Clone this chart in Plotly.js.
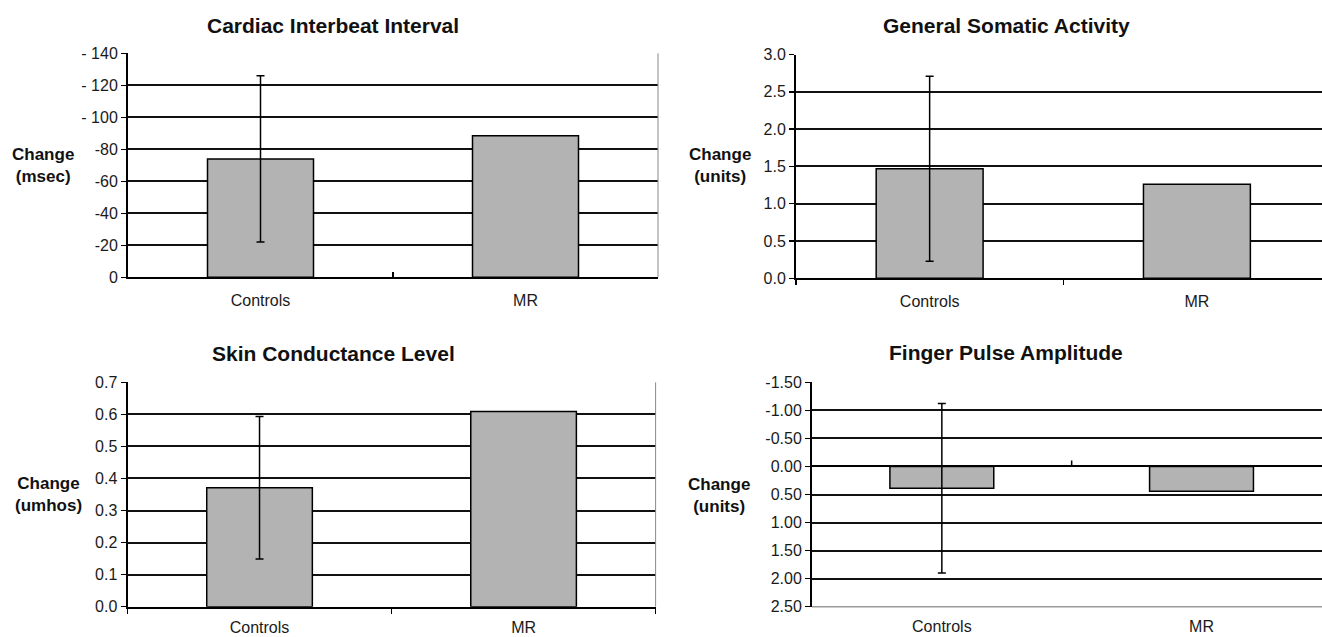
<!DOCTYPE html>
<html>
<head>
<meta charset="utf-8">
<script src="https://cdn.plot.ly/plotly-3.0.1.min.js"></script>
<style>html,body{margin:0;padding:0;background:#fff}#chart{width:1322px;height:637px}</style>
</head>
<body>
<div id="chart"></div>
<script>
// ---- data ----
const categories = ["Controls", "MR"];

const cardiacValues = [-74, -88.5];
const cardiacControlsError = 52;
const cardiacTickVals = [0, -20, -40, -60, -80, -100, -120, -140];
const cardiacTickText = ["0", "-20", "-40", "-60", "-80", "- 100", "- 120", "- 140"];

const somaticValues = [1.47, 1.26];
const somaticControlsError = 1.24;
const somaticTickVals = [0, 0.5, 1, 1.5, 2, 2.5, 3];
const somaticTickText = ["0.0", "0.5", "1.0", "1.5", "2.0", "2.5", "3.0"];

const skinValues = [0.371, 0.609];
const skinControlsError = 0.222;
const skinTickVals = [0, 0.1, 0.2, 0.3, 0.4, 0.5, 0.6, 0.7];
const skinTickText = ["0.0", "0.1", "0.2", "0.3", "0.4", "0.5", "0.6", "0.7"];

const fingerValues = [0.39, 0.44];
const fingerControlsError = 1.51;
const fingerTickVals = [-1.5, -1, -0.5, 0, 0.5, 1, 1.5, 2, 2.5];
const fingerTickText = ["-1.50", "-1.00", "-0.50", "0.00", "0.50", "1.00", "1.50", "2.00", "2.50"];

const panelTitles = ["Cardiac Interbeat Interval", "General Somatic Activity", "Skin Conductance Level", "Finger Pulse Amplitude"];
const yTitles = ["Change<br>(msec)", "Change<br>(units)", "Change<br>(umhos)", "Change<br>(units)"];

// ---- styling ----
const FONT = "Liberation Sans, Arial, sans-serif";
const BAR_COLOR = "#b3b3b3";
const W = 1322, H = 637;

function panelTraces(values, err, xa, ya) {
  const common = {
    type: "bar", width: 0.4, xaxis: xa, yaxis: ya, showlegend: false, hoverinfo: "x+y",
    marker: {color: BAR_COLOR, line: {color: "#000", width: 1.5}}
  };
  return [
    Object.assign({}, common, {
      x: [categories[0]], y: [values[0]],
      error_y: {type: "data", array: [err], visible: true, color: "#000", thickness: 1.5, width: 4}
    }),
    Object.assign({}, common, {x: [categories[1]], y: [values[1]]})
  ];
}

const data = [].concat(
  panelTraces(cardiacValues, cardiacControlsError, "x", "y"),
  panelTraces(somaticValues, somaticControlsError, "x2", "y2"),
  panelTraces(skinValues, skinControlsError, "x3", "y3"),
  panelTraces(fingerValues, fingerControlsError, "x4", "y4")
);

function px(x) { return x / W; }
function py(y) { return 1 - y / H; }

function yAxis(domTop, domBot, range, vals, text, anchor, extra) {
  return Object.assign({
    domain: [py(domBot), py(domTop)], range: range, anchor: anchor,
    tickmode: "array", tickvals: vals, ticktext: text,
    showgrid: true, gridcolor: "#111", gridwidth: 2,
    showline: true, linecolor: "#000", linewidth: 2,
    ticks: "outside", ticklen: 5, tickcolor: "#000", tickwidth: 1.5,
    tickfont: {family: FONT, size: 16, color: "#1a1a1a"},
    zeroline: false, fixedrange: true
  }, extra || {});
}

function xAxis(domL, domR, range, anchor, extra) {
  return Object.assign({
    domain: [px(domL), px(domR)], range: range, anchor: anchor,
    type: "category", categoryorder: "array", categoryarray: categories,
    showgrid: false, showline: true, linecolor: "#000", linewidth: 2,
    ticks: "outside", tickson: "boundaries", ticklen: 5, tickcolor: "#000", tickwidth: 1.5,
    tickfont: {family: FONT, size: 16, color: "#1a1a1a"},
    ticklabelstandoff: 7,
    zeroline: false, fixedrange: true
  }, extra || {});
}

const layout = {
  width: W, height: H,
  margin: {l: 0, r: 0, t: 0, b: 0},
  paper_bgcolor: "#fff", plot_bgcolor: "#fff",
  barmode: "overlay",
  font: {family: FONT, color: "#000"},
  xaxis: xAxis(128, 658, [-0.5, 1.5], "y", {ticks: "inside"}),
  yaxis: yAxis(53.3, 277.3, [0, -140], cardiacTickVals, cardiacTickText, "x"),
  xaxis2: xAxis(796, 1322, [-0.5, 1.468], "y2"),
  yaxis2: yAxis(54.5, 278.3, [0, 3], somaticTickVals, somaticTickText, "x2"),
  xaxis3: xAxis(127.5, 655.6, [-0.5, 1.5], "y3", {ticklabelstandoff: 5}),
  yaxis3: yAxis(382.3, 606.7, [0, 0.7], skinTickVals, skinTickText, "x3"),
  xaxis4: xAxis(812, 1322, [-0.5, 1.464], "y4", {showline: false, ticks: "", ticklabelstandoff: 8}),
  yaxis4: yAxis(382.3, 606.7, [2.5, -1.5], fingerTickVals, fingerTickText, "x4",
                {zeroline: true, zerolinecolor: "#000", zerolinewidth: 2}),
  annotations: [],
  shapes: [
    {type: "line", xref: "x domain", yref: "y domain", x0: 1, x1: 1, y0: 0, y1: 1, line: {color: "#8a8a8a", width: 1}},
    {type: "line", xref: "x3 domain", yref: "y3 domain", x0: 1, x1: 1, y0: 0, y1: 1, line: {color: "#8a8a8a", width: 1}},
    {type: "line", xref: "x4 domain", yref: "y4 domain", x0: 0, x1: 1, y0: 0, y1: 0, line: {color: "#9a9a9a", width: 1.5}},
    {type: "line", xref: "x4", yref: "y4", x0: 0.5, x1: 0.5, ysizemode: "pixel", yanchor: 0, y0: 0, y1: 6, line: {color: "#000", width: 1.5}}
  ]
};

const titlePos = [[333, 25], [1006, 25], [333, 353], [1006, 352]];
const yTitlePos = [[43, 166], [720, 166], [48, 494], [719, 495]];
for (let i = 0; i < 4; i++) {
  layout.annotations.push({
    text: "<b>" + panelTitles[i] + "</b>", xref: "paper", yref: "paper",
    x: px(titlePos[i][0]), y: py(titlePos[i][1]), xanchor: "center", yanchor: "middle",
    showarrow: false, font: {family: FONT, size: 21, color: "#111"}
  });
  layout.annotations.push({
    text: "<b>" + yTitles[i] + "</b>", xref: "paper", yref: "paper",
    x: px(yTitlePos[i][0]), y: py(yTitlePos[i][1]), xanchor: "center", yanchor: "middle",
    showarrow: false, align: "center", font: {family: FONT, size: 17, color: "#111"}
  });
}

Plotly.newPlot("chart", data, layout, {staticPlot: true, displayModeBar: false});
</script>
</body>
</html>
